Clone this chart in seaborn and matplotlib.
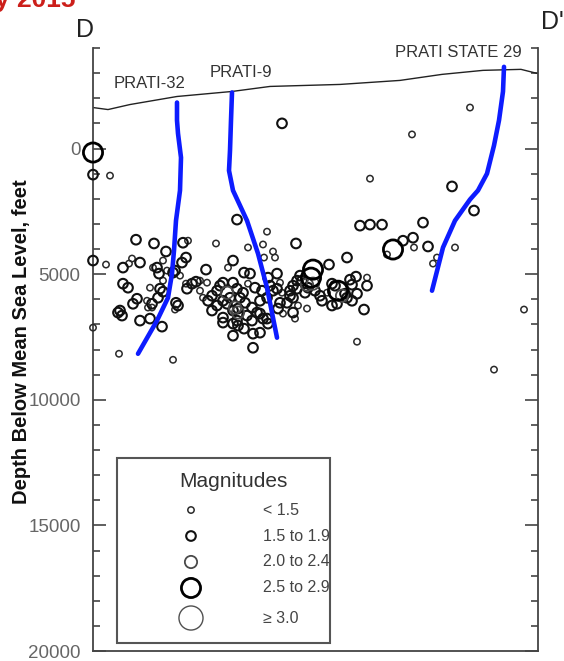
import matplotlib
matplotlib.use("Agg")
import matplotlib.pyplot as plt
import numpy as np
import pandas as pd
import seaborn as sns
from matplotlib.patches import Rectangle
from matplotlib.ticker import MultipleLocator

sns.set_style("white")
plt.rcParams["font.family"] = ["Liberation Sans", "DejaVu Sans"]

# ground surface along the section (distance units, depth below MSL in ft)
surf_dist = [0, 15, 37, 84, 139, 177, 247, 307, 349, 390, 428, 444]
surf_depth = [-1630, -1550, -1750, -2070, -2270, -2470, -2550, -2710, -2950, -3110, -3150, -2990]

# well traces
p32_dist = [84, 84, 85, 88, 87, 83, 81, 79, 75, 64, 45]
p32_depth = [-1830, -1120, -600, 360, 1670, 2870, 4060, 4980, 5940, 6850, 8170]
p9_dist = [139, 138, 137, 136, 140, 147, 154, 165, 174, 184]
p9_depth = [-2230, -1120, 80, 880, 1670, 2270, 2870, 4180, 5540, 7530]
ps29_dist = [411, 410, 406, 401, 394, 385, 377, 362, 350, 339]
ps29_depth = [-3250, -2270, -1120, -120, 1000, 1670, 2030, 2870, 3940, 5660]

well_names = ["PRATI-32", "PRATI-9", "PRATI STATE 29"]
well_label_dist = [57, 148, 365]
well_label_depth = [-2590, -3030, -3820]

# earthquake hypocenters
eq_dist = [
    0, 0, 17, 0, 13, 0, 26, 80, 189, 319,
    377, 277, 359, 381, 267, 277, 289, 330, 300, 294,
    310, 320, 321, 335, 362, 344, 340, 431, 401, 264,
    43, 61, 73, 90, 95, 123, 144, 174, 170, 155,
    180, 182, 171, 203, 30, 36, 39, 47, 60, 64,
    66, 70, 74, 82, 89, 93, 87, 70, 30, 35,
    57, 67, 70, 65, 44, 40, 27, 29, 25, 47,
    57, 55, 59, 83, 85, 82, 69, 94, 99, 103,
    107, 114, 113, 110, 115, 93, 54, 59, 80, 107,
    124, 127, 130, 140, 135, 151, 157, 130, 134, 137,
    140, 145, 130, 140, 167, 170, 160, 140, 160, 144,
    140, 144, 150, 134, 124, 119, 142, 152, 159, 164,
    154, 159, 130, 145, 174, 167, 175, 187, 185, 190,
    175, 177, 187, 184, 189, 167, 174, 180, 197, 200,
    204, 145, 147, 162, 169, 155, 119, 151, 184, 254,
    236, 220, 218, 214, 207, 200, 204, 212, 222, 227,
    197, 194, 205, 214, 200, 202, 245, 249, 244, 239,
    234, 254, 263, 274, 257, 259, 239, 274, 264, 259,
    271, 229, 220, 209, 215, 252, 242,
]
eq_depth = [
    160, 1040, 1080, 4460, 4620, 7130, 8170, 8410, -1000, -560,
    -1630, 1200, 1510, 2470, 3070, 3030, 3030, 2950, 4020, 4220,
    3670, 3550, 3940, 3900, 3940, 4340, 4580, 6410, 8800, 7690,
    3630, 3780, 4100, 3750, 3670, 3780, 2830, 3310, 3820, 3940,
    4100, 4340, 4340, 3780, 4740, 4580, 4380, 4540, 4740, 4740,
    4980, 4460, 4860, 4860, 4540, 4340, 5060, 5260, 5380, 5540,
    5540, 5580, 5700, 5940, 5980, 6180, 6450, 6650, 6530, 6850,
    6770, 6330, 6330, 6140, 6250, 6410, 7090, 5580, 5380, 5300,
    5660, 5340, 4820, 5940, 6060, 5380, 6060, 6180, 4940, 5260,
    5660, 5460, 5340, 4460, 4740, 4940, 4980, 6060, 6180, 5940,
    6450, 6370, 6730, 6970, 6570, 6770, 7370, 7450, 7930, 6850,
    5340, 5580, 5740, 5740, 6250, 5860, 6330, 6140, 6330, 6530,
    6650, 6850, 6930, 7050, 6770, 7330, 6970, 6140, 6370, 6570,
    5140, 5460, 5340, 5580, 5740, 6060, 5940, 5660, 5660, 5940,
    5260, 6530, 5940, 5540, 5660, 5380, 6450, 7170, 4980, 4340,
    4620, 4820, 5140, 5420, 5060, 5460, 5580, 5740, 5660, 5860,
    5860, 6140, 6250, 6370, 6530, 6770, 5660, 5860, 6180, 6250,
    5740, 5940, 5100, 5140, 5220, 5420, 5380, 5460, 5780, 6060,
    6410, 6060, 5380, 5260, 5540, 5780, 5460,
]
eq_mag = [
    2.7, 1.7, 1.2, 1.8, 1.3, 1.1, 1.2, 1.3, 1.7, 1.2,
    1.3, 1.2, 1.8, 1.7, 1.6, 1.7, 1.8, 1.7, 2.7, 1.2,
    1.6, 1.7, 1.3, 1.8, 1.2, 1.3, 1.2, 1.3, 1.2, 1.1,
    1.8, 1.7, 1.6, 1.8, 1.3, 1.2, 1.7, 1.3, 1.2, 1.2,
    1.3, 1.2, 1.1, 1.7, 1.8, 1.3, 1.2, 1.7, 1.3, 1.6,
    1.7, 1.2, 1.3, 1.6, 1.7, 1.8, 1.2, 1.3, 1.7, 1.6,
    1.2, 1.8, 1.7, 1.6, 1.7, 1.8, 1.7, 1.6, 1.8, 1.7,
    1.8, 1.2, 1.3, 1.7, 1.6, 1.2, 1.7, 1.6, 1.7, 1.8,
    1.3, 1.2, 1.7, 1.3, 1.7, 1.2, 1.3, 1.6, 1.7, 1.2,
    1.7, 1.6, 1.8, 1.7, 1.3, 1.7, 1.6, 1.8, 1.7, 1.6,
    1.7, 1.8, 1.7, 1.6, 1.7, 1.8, 1.7, 1.8, 1.7, 1.6,
    1.7, 1.8, 1.6, 2.2, 1.7, 1.6, 2.1, 1.7, 1.8, 1.6,
    1.7, 1.8, 1.7, 1.6, 1.7, 1.8, 1.7, 1.6, 1.7, 1.2,
    1.7, 1.8, 1.3, 1.7, 1.2, 1.6, 1.7, 1.8, 1.7, 1.6,
    1.7, 2.3, 1.7, 1.8, 1.6, 1.2, 1.7, 1.6, 1.7, 1.7,
    1.8, 2.7, 2.6, 2.2, 1.7, 1.6, 1.7, 1.8, 1.7, 1.6,
    1.7, 1.8, 1.2, 1.3, 1.7, 1.2, 2.7, 2.2, 1.7, 1.6,
    1.3, 1.7, 1.8, 1.2, 1.7, 1.6, 1.7, 1.8, 1.7, 1.6,
    1.7, 1.8, 2.1, 1.7, 1.6, 1.7, 1.8,
]

mag_bins = [0, 1.5, 2.0, 2.5, 3.0, 10]
mag_labels = ["< 1.5", "1.5 to 1.9", "2.0 to 2.4", "2.5 to 2.9", "\u2265 3.0"]
mark_size = [21, 48, 78, 190, 300]
mark_lw = [1.1, 1.5, 1.3, 2.0, 1.0]
mark_ec = ["#2a2a2a", "#111111", "#4a4a4a", "#000000", "#505050"]

df = pd.DataFrame({"dist": eq_dist, "depth": eq_depth, "mag": eq_mag})
df["cls"] = pd.cut(df["mag"], bins=mag_bins, labels=mag_labels, right=False)

W, H = 564, 661
fig = plt.figure(figsize=(W / 100, H / 100), dpi=100)
ax = fig.add_axes([93 / W, 1 - 651 / H, 445 / W, 603 / H])

for i, lab in enumerate(mag_labels):
    sub = df[df["cls"] == lab]
    if sub.empty:
        continue
    sns.scatterplot(data=sub, x="dist", y="depth", ax=ax, s=mark_size[i],
                    marker="o", legend=False, zorder=3)
    coll = ax.collections[-1]
    coll.set_facecolor("none")
    coll.set_edgecolor(mark_ec[i])
    coll.set_linewidth(mark_lw[i])
    coll.set_clip_on(False)

sns.lineplot(x=surf_dist, y=surf_depth, sort=False, estimator=None, ax=ax,
             color="#222222", lw=1.0, zorder=2)
for wd, wz in [(p32_dist, p32_depth), (p9_dist, p9_depth), (ps29_dist, ps29_depth)]:
    sns.lineplot(x=wd, y=wz, sort=False, estimator=None, ax=ax, color="#0d1cff",
                 lw=3.3, solid_capstyle="round", solid_joinstyle="round", zorder=4)

for name, xd, yd in zip(well_names, well_label_dist, well_label_depth):
    ax.text(xd, yd, name, ha="center", va="center", fontsize=12, color="#333333")

ax.set_xlim(0, 445)
ax.set_ylim(20000, -4000)
ax.set_xticks([])
ax.set_yticks([0, 5000, 10000, 15000, 20000])
ax.yaxis.set_minor_locator(MultipleLocator(1000))
ax.tick_params(axis="y", which="both", direction="in", left=True, right=True,
               color="#444444", width=1.2)
ax.tick_params(axis="y", which="major", length=9.5, labelsize=13.5,
               labelcolor="#666666", pad=9)
ax.tick_params(axis="y", which="minor", length=5)
ax.set_xlabel("")
ax.set_ylabel("")
ax.spines["top"].set_visible(False)
for s in ["left", "right", "bottom"]:
    ax.spines[s].set_color("#444444")
    ax.spines[s].set_linewidth(1.3)

# magnitude key
ax.add_patch(Rectangle((0.0539, 0.0133), 0.4787, 0.3068, transform=ax.transAxes,
                       fill=False, ec="#555555", lw=1.5, zorder=5))
ax.text(0.1933, 0.2803, "Magnitudes", transform=ax.transAxes, ha="left",
        va="center", fontsize=15, color="#333333")
key_y = [0.2338, 0.1907, 0.1476, 0.1045, 0.0547]
for i, lab in enumerate(mag_labels):
    ax.scatter([0.2202], [key_y[i]], s=mark_size[i], marker="o", facecolor="none",
               edgecolor=mark_ec[i], linewidth=mark_lw[i], transform=ax.transAxes,
               zorder=5)
    ax.text(0.382, key_y[i], lab, transform=ax.transAxes, ha="left", va="center",
            fontsize=11.5, color="#444444")

fig.text(22 / W, 1 - 342 / H, "Depth Below Mean Sea Level, feet", rotation=90,
         ha="center", va="center", fontsize=14.5, fontweight="bold", color="#111111")
fig.text(85 / W, 1 - 30 / H, "D", ha="center", va="center", fontsize=18, color="#222222")
fig.text(552 / W, 1 - 22 / H, "D'", ha="center", va="center", fontsize=18, color="#222222")
fig.text(-5 / W, 1 - 7 / H, "y 2015", ha="left", va="baseline", fontsize=19,
         fontweight="bold", color="#cc1f1a")

fig.savefig("out.png", dpi=100)
